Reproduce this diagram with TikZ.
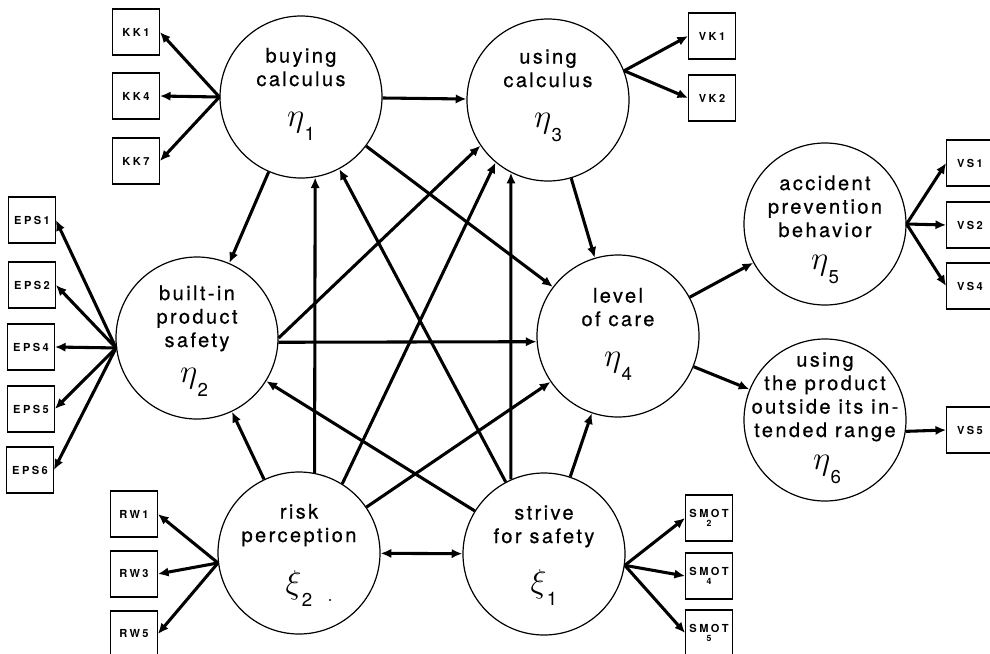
\documentclass[tikz,border=0pt]{standalone}
\usepackage{fontspec}
\setmainfont{TeX Gyre Heros}
\newfontfamily\circfont{TeX Gyre Heros}[LetterSpace=12,FakeBold=0.6]
\newfontfamily\boxfont{TeX Gyre Heros}[LetterSpace=22]
\usetikzlibrary{arrows.meta,calc}
\newcommand\lvsym[3]{{\fontsize{24.88}{28}\selectfont$#1$}\kern0.3pt\raisebox{#3}{\fontsize{14}{14}\selectfont #2}}
\begin{document}
\begin{tikzpicture}[x=0.75pt,y=-0.75pt,
  lat/.style={circle,draw,line width=0.9pt,minimum size=121.5pt,inner sep=0pt},
  ind/.style={draw,line width=0.8pt,minimum width=35pt,minimum height=34.5pt,inner sep=0pt,
    font=\boxfont\bfseries\fontsize{8.3}{8.5}\selectfont},
  txt/.style={align=center,font=\circfont\fontsize{15}{17.6}\selectfont,inner sep=0pt,anchor=base},
  sym/.style={inner sep=0pt,anchor=base},
  arr/.style={line width=2.3pt,-{Latex[length=8pt,width=7pt]}},
  barr/.style={line width=2.3pt,{Latex[length=8pt,width=7pt]}-{Latex[length=8pt,width=7pt]}},
]
\useasboundingbox (0,0) rectangle (990,654);
\fill[white] (0,0) rectangle (990,654);

% latent variables
\node[lat] (eta1) at (301,97) {};
\node[lat] (eta3) at (548,100) {};
\node[lat] (eta2) at (197,338) {};
\node[lat] (eta4) at (618,336) {};
\node[lat] (eta5) at (825,224) {};
\node[lat] (eta6) at (825,420) {};
\node[lat] (xi2) at (299,553) {};
\node[lat] (xi1) at (544,554) {};

% texts (anchor base = baseline of last line)
\node[txt] (eta1t) at ($(eta1)+(0,-11)$) {buying\\calculus};
\node[txt] (eta3t) at ($(eta3)+(0,-13)$) {using\\calculus};
\node[txt] (eta2t) at ($(eta2)+(0,9)$) {built-in\\product\\safety};
\node[txt] (eta4t) at ($(eta4)+(0,-10)$) {level\\of care};
\node[txt] (eta5t) at ($(eta5)+(0,13)$) {accident\\prevention\\behavior};
\node[txt] (eta6t) at ($(eta6)+(0,17)$) {using\\the product\\outside its in-\\tended range};
\node[txt] (xi2t) at ($(xi2)+(0,-11)$) {risk\\perception};
\node[txt] (xi1t) at ($(xi1)+(0,-11)$) {strive\\for safety};

\node[sym] (eta1s) at ($(eta1)+(0,29)$) {\lvsym{\eta}{1}{-11pt}};
\node[sym] (eta3s) at ($(eta3)+(0,27)$) {\lvsym{\eta}{3}{-11pt}};
\node[sym] (eta2s) at ($(eta2)+(-3,44)$) {\lvsym{\eta}{2}{-11pt}};
\node[sym] (eta4s) at ($(eta4)+(0,30)$) {\lvsym{\eta}{4}{-11pt}};
\node[sym] (eta5s) at ($(eta5)+(0,45)$) {\lvsym{\eta}{5}{-11pt}};
\node[sym] (eta6s) at ($(eta6)+(2,49)$) {\lvsym{\eta}{6}{-11pt}};
\node[sym] (xi2s) at ($(xi2)+(0,40)$) {\lvsym{\xi}{2}{-10pt}};
\node[sym] (xi1s) at ($(xi1)+(0,38)$) {\lvsym{\xi}{1}{-10pt}};
\fill (330,600) circle (1.1);

% indicators
\node[ind] (kk1) at (136,32) {KK1};
\node[ind] (kk4) at (136,96) {KK4};
\node[ind] (kk7) at (136,161) {KK7};
\node[ind] (eps1) at (32,220) {EPS1};
\node[ind] (eps2) at (32,285) {EPS2};
\node[ind] (eps4) at (31,347) {EPS4};
\node[ind] (eps5) at (31,409) {EPS5};
\node[ind] (eps6) at (30,470) {EPS6};
\node[ind] (rw1) at (134,514) {RW1};
\node[ind] (rw3) at (134,574) {RW3};
\node[ind] (rw5) at (134,634) {RW5};
\node[ind,align=center] (smot2) at (709,518) {SMOT\\[-2pt]{\fontsize{6.5}{6.5}\selectfont 2}};
\node[ind,align=center] (smot4) at (709,576) {SMOT\\[-2pt]{\fontsize{6.5}{6.5}\selectfont 4}};
\node[ind,align=center] (smot5) at (709,633) {SMOT\\[-2pt]{\fontsize{6.5}{6.5}\selectfont 5}};
\node[ind] (vk1) at (712,36) {VK1};
\node[ind] (vk2) at (712,98) {VK2};
\node[ind] (vs1) at (970,163) {VS1};
\node[ind] (vs2) at (970,225) {VS2};
\node[ind] (vs4) at (970,286) {VS4};
\node[ind] (vs5) at (970,430) {VS5};

% measurement arrows
\foreach \b in {kk1,kk4,kk7} \draw[arr] (eta1.west) -- (\b.east);
\foreach \b in {eps1,eps2,eps4,eps5,eps6} \draw[arr] (eta2.187) -- (\b.east);
\foreach \b in {rw1,rw3,rw5} \draw[arr] (xi2.187) -- (\b.east);
\foreach \b in {smot2,smot4,smot5} \draw[arr] (xi1.352) -- (\b.west);
\foreach \b in {vk1,vk2} \draw[arr] (eta3.21) -- (\b.west);
\foreach \b in {vs1,vs2,vs4} \draw[arr] (eta5.east) -- (\b.west);
\draw[arr] (eta6.352) -- (vs5.west);

% structural arrows
\draw[arr] (eta1) -- (eta3);
\draw[arr] (eta1) -- (eta2);
\draw[arr] (eta1) -- (eta4);
\draw[arr] (eta3) -- (eta4);
\draw[arr] (eta2.-3) -- (eta4.184);
\draw[arr] (eta2.east) -- (eta3.214);
\draw[arr] (xi2.79) -- (eta1.-80);
\draw[arr] (xi2.58) -- (eta3.230);
\draw[arr] (xi2) -- (eta4);
\draw[arr] (xi2) -- (eta2);
\draw[arr] (xi1) -- (eta1);
\draw[arr] (xi1) -- (eta2);
\draw[arr] (xi1.114) -- (eta3.-117);
\draw[arr] (xi1) -- (eta4);
\draw[barr] (xi2) -- (xi1);
\draw[arr] (eta4) -- (eta5);
\draw[arr] (eta4) -- (eta6);
\end{tikzpicture}
\end{document}
